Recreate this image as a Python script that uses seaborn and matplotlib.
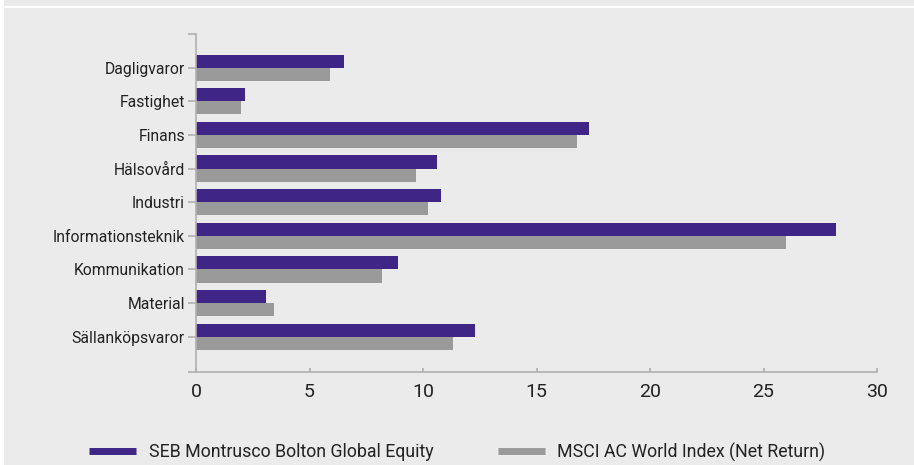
import matplotlib
matplotlib.use("Agg")
import matplotlib.pyplot as plt
import seaborn as sns
import pandas as pd
from matplotlib.lines import Line2D
from matplotlib.patches import Rectangle

categories = ["Dagligvaror", "Fastighet", "Finans", "Hälsovård", "Industri",
              "Informationsteknik", "Kommunikation", "Material", "Sällanköpsvaror"]
fund_name = "SEB Montrusco Bolton Global Equity"
index_name = "MSCI AC World Index (Net Return)"
fund_values = [6.5, 2.15, 17.3, 10.6, 10.8, 28.2, 8.9, 3.1, 12.3]
index_values = [5.9, 2.0, 16.8, 9.7, 10.2, 26.0, 8.2, 3.45, 11.3]
x_ticks = [0, 5, 10, 15, 20, 25, 30]

purple = "#3f2586"
grey = "#9a9a9a"
bg = "#ebebeb"

df = pd.DataFrame({
    "Sektor": categories * 2,
    "Vikt": fund_values + index_values,
    "Serie": [fund_name] * len(categories) + [index_name] * len(categories),
})

sns.set_theme(style="white")
plt.rcParams["font.family"] = ["Roboto", "DejaVu Sans"]

fig = plt.figure(figsize=(9.14, 4.65), dpi=100, facecolor=bg)
ax = fig.add_axes([196 / 914, 1 - 372 / 465, (877 - 196) / 914, (372 - 34) / 465])
ax.set_facecolor(bg)

sns.barplot(data=df, y="Sektor", x="Vikt", hue="Serie", orient="h",
            palette=[purple, grey], width=0.78, ax=ax, legend=False,
            edgecolor="none", saturation=1)

ax.set_xlim(0, 30)
ax.set_ylim(9.05, -1.0)
ax.set_xticks(x_ticks)
ax.set_xticklabels([str(t) for t in x_ticks])
ax.set_yticks([-1.0, 9.05], minor=True)
ax.set_xlabel("")
ax.set_ylabel("")

for s in ["top", "right"]:
    ax.spines[s].set_visible(False)
for s in ["left", "bottom"]:
    ax.spines[s].set_color("#b0b0b0")
    ax.spines[s].set_linewidth(1.2)

ax.tick_params(axis="y", which="both", length=6, width=1.2, color="#b0b0b0",
               pad=2, labelsize=11.3, labelcolor="#222222", left=True, direction="out")
ax.tick_params(axis="x", length=3, width=1.2, color="#b0b0b0", direction="in",
               pad=8, labelsize=14, labelcolor="#222222", bottom=True)

# decorative white strips of the frame
fig.patches.append(Rectangle((0, 0), 4 / 914, 1, transform=fig.transFigure,
                             facecolor="white", edgecolor="none", zorder=0))
fig.patches.append(Rectangle((0, 1 - 8.5 / 465), 1, 2.5 / 465, transform=fig.transFigure,
                             facecolor="white", edgecolor="none", zorder=0))

handles = [Line2D([0], [0], color=purple, lw=5, solid_capstyle="butt"),
           Line2D([0], [0], color=grey, lw=5, solid_capstyle="butt")]
fig.legend(handles, [fund_name, index_name], loc="center left",
           bbox_to_anchor=(89 / 914, 13 / 465), ncol=2, frameon=False,
           fontsize=12.8, handlelength=2.65, handletextpad=0.72,
           columnspacing=3.6, borderpad=0, borderaxespad=0,
           labelcolor="#222222")

fig.savefig("out.png", dpi=100, facecolor=bg)
